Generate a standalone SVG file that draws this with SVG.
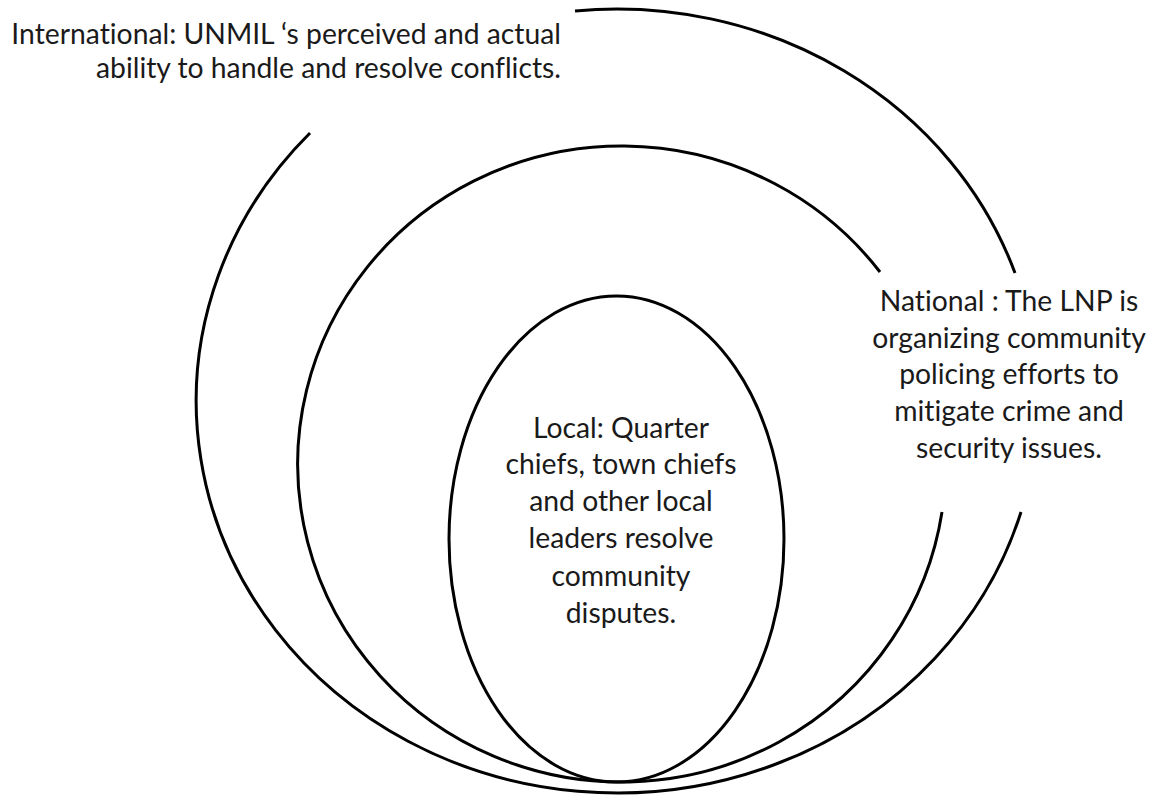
<svg xmlns="http://www.w3.org/2000/svg" width="1159" height="797" viewBox="0 0 1159 797">
<style>
.ring{fill:none;stroke:#000;stroke-width:3}
.lbl{font-family:Lato,"Liberation Sans",sans-serif;font-size:28.3px;fill:#1a1a1a;font-variant-ligatures:none}
.c{text-anchor:middle}
.r{text-anchor:end}
</style>
<rect width="1159" height="797" fill="#fff"/>
<g id="connectors"></g>
<g id="international">
<path class="ring" d="M1021,512 A421,392 0 1 1 310,133"/>
<path class="ring" d="M575,11 A421,392 0 0 1 1015,273"/>
<text class="lbl r" x="561" y="44">International: UNMIL ‘s perceived and actual</text>
<text class="lbl r" x="561" y="78">ability to handle and resolve conflicts.</text>
</g>
<g id="national">
<path class="ring" d="M942,512 A324,318 0 1 1 880,272"/>
<text class="lbl c" x="1009" y="311">National : The LNP is</text>
<text class="lbl c" x="1009" y="348">organizing community</text>
<text class="lbl c" x="1009" y="384">policing efforts to</text>
<text class="lbl c" x="1009" y="421">mitigate crime and</text>
<text class="lbl c" x="1009" y="458">security issues.</text>
</g>
<g id="local">
<ellipse class="ring" cx="616.5" cy="539" rx="167.5" ry="243"/>
<text class="lbl c" x="621" y="438">Local: Quarter</text>
<text class="lbl c" x="621" y="474">chiefs, town chiefs</text>
<text class="lbl c" x="621" y="511">and other local</text>
<text class="lbl c" x="621" y="548">leaders resolve</text>
<text class="lbl c" x="621" y="586">community</text>
<text class="lbl c" x="621" y="623">disputes.</text>
</g>
</svg>
